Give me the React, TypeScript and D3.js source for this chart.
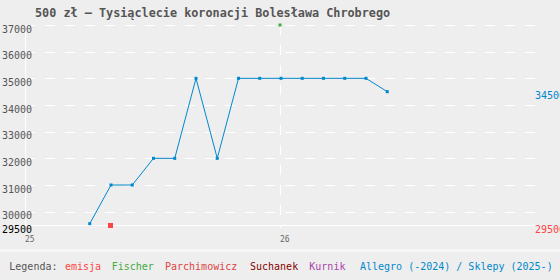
import React from "react";
import * as d3 from "d3";

// dane wykresu
const title = "500 zł – Tysiąclecie koronacji Bolesława Chrobrego";
const allegroMonths = [
  "2025-04", "2025-05", "2025-06", "2025-07", "2025-08", "2025-09", "2025-10",
  "2025-11", "2025-12", "2026-01", "2026-02", "2026-03", "2026-04", "2026-05", "2026-06",
];
const allegroPrices = [
  29550, 31000, 31000, 32000, 32000, 35000, 32000,
  35000, 35000, 35000, 35000, 35000, 35000, 35000, 34500,
];
const emisjaMonths = ["2025-05"];
const emisjaPrices = [29500];
const fischerMonths = ["2026-01"];
const fischerPrices = [37000];
const yTicks = [30000, 31000, 32000, 33000, 34000, 35000, 36000, 37000];
const yBase = 29500;
const xYears = [2025, 2026];
const xTickLabels = ["25", "26"];
const legendLabels = ["emisja", "Fischer", "Parchimowicz", "Suchanek", "Kurnik", "Allegro (-2024) / Sklepy (2025-)"];
const legendColors = ["#ff4444", "#44aa44", "#dd4444", "#880000", "#aa44aa", "#0088cc"];
const legendX = [65, 111.7, 165, 250, 309.3, 360];

const FONT = "'DejaVu Sans Mono', monospace";
const W = 560;
const H = 280;

const monthIndex = (m: string) => {
  const [y, mo] = m.split("-").map(Number);
  return (y - 2025) * 12 + (mo - 1);
};

export default function App() {
  const x = d3.scaleLinear().domain([0, 24]).range([25, 535]);
  const y = d3.scaleLinear().domain([yBase, 37000]).range([225, 25]);

  const allegro = allegroMonths.map((m, i) => ({ m: monthIndex(m), v: allegroPrices[i] }));
  const line = d3
    .line<{ m: number; v: number }>()
    .x((d) => x(d.m) + 1)
    .y((d) => y(d.v));

  const last = allegro[allegro.length - 1];

  return (
    <svg
      width={W}
      height={H}
      style={{ position: "absolute", left: 0, top: 0, background: "#eeeeee" }}
    >
      <rect x={0} y={0} width={W} height={H} fill="#eeeeee" />
      <rect x={0} y={249} width={W} height={3} fill="#f7f7f7" />

      <text x={35} y={17} fontFamily={FONT} fontWeight="bold" fontSize={11.8} fill="#555">
        {title}
      </text>

      {/* siatka */}
      {yTicks.map((t) => (
        <line
          key={t}
          x1={25}
          x2={535}
          y1={Math.round(y(t)) + 0.5}
          y2={Math.round(y(t)) + 0.5}
          stroke="#fff"
          strokeDasharray="10,10"
          shapeRendering="crispEdges"
        />
      ))}
      <line x1={25} x2={535} y1={225.5} y2={225.5} stroke="#fff" shapeRendering="crispEdges" />
      <line x1={25.5} x2={25.5} y1={25} y2={225} stroke="#fff" shapeRendering="crispEdges" />
      {xYears.slice(1).map((yr) => (
        <line
          key={yr}
          x1={x((yr - 2025) * 12) + 0.5}
          x2={x((yr - 2025) * 12) + 0.5}
          y1={25}
          y2={228}
          stroke="#fff"
          strokeDasharray="10,10"
          shapeRendering="crispEdges"
        />
      ))}

      {/* osie */}
      {yTicks.map((t) => (
        <text key={t} x={32} y={y(t) + 7.5} textAnchor="end" fontFamily={FONT} fontSize={10} fill="#555">
          {t}
        </text>
      ))}
      <text x={32} y={y(yBase) + 7.5} textAnchor="end" fontFamily={FONT} fontSize={10} fill="#000">
        {yBase}
      </text>
      {xYears.map((yr, i) => (
        <text key={yr} x={x((yr - 2025) * 12)} y={241.5} fontFamily={FONT} fontSize={8} fill="#666">
          {xTickLabels[i]}
        </text>
      ))}

      {/* Allegro */}
      <path d={line(allegro) || ""} fill="none" stroke="#0088cc" strokeWidth={1} />
      {allegro.map((d, i) => (
        <rect key={i} x={x(d.m) - 0.5} y={y(d.v) - 1.5} width={3} height={3} fill="#0088cc" />
      ))}

      {/* emisja */}
      {emisjaMonths.map((m, i) => (
        <rect
          key={m}
          x={x(monthIndex(m)) - 2}
          y={y(emisjaPrices[i]) - 2}
          width={5}
          height={5}
          fill="#ff4444"
        />
      ))}

      {/* Fischer */}
      {fischerMonths.map((m, i) => (
        <rect
          key={m}
          x={x(monthIndex(m)) - 1.5}
          y={y(fischerPrices[i]) - 1.5}
          width={3}
          height={3}
          fill="#44aa44"
        />
      ))}

      {/* etykiety po prawej */}
      <text x={535} y={y(last.v) + 7.5} fontFamily={FONT} fontSize={10} fill="#0088cc">
        {last.v}
      </text>
      <text x={535} y={y(emisjaPrices[0]) + 7.5} fontFamily={FONT} fontSize={10} fill="#ff4444">
        {emisjaPrices[0]}
      </text>

      {/* legenda */}
      <text x={9.3} y={270} fontFamily={FONT} fontSize={10} fill="#555">
        Legenda:
      </text>
      {legendLabels.map((l, i) => (
        <text key={l} x={legendX[i]} y={270} fontFamily={FONT} fontSize={10} fill={legendColors[i]}>
          {l}
        </text>
      ))}
    </svg>
  );
}
